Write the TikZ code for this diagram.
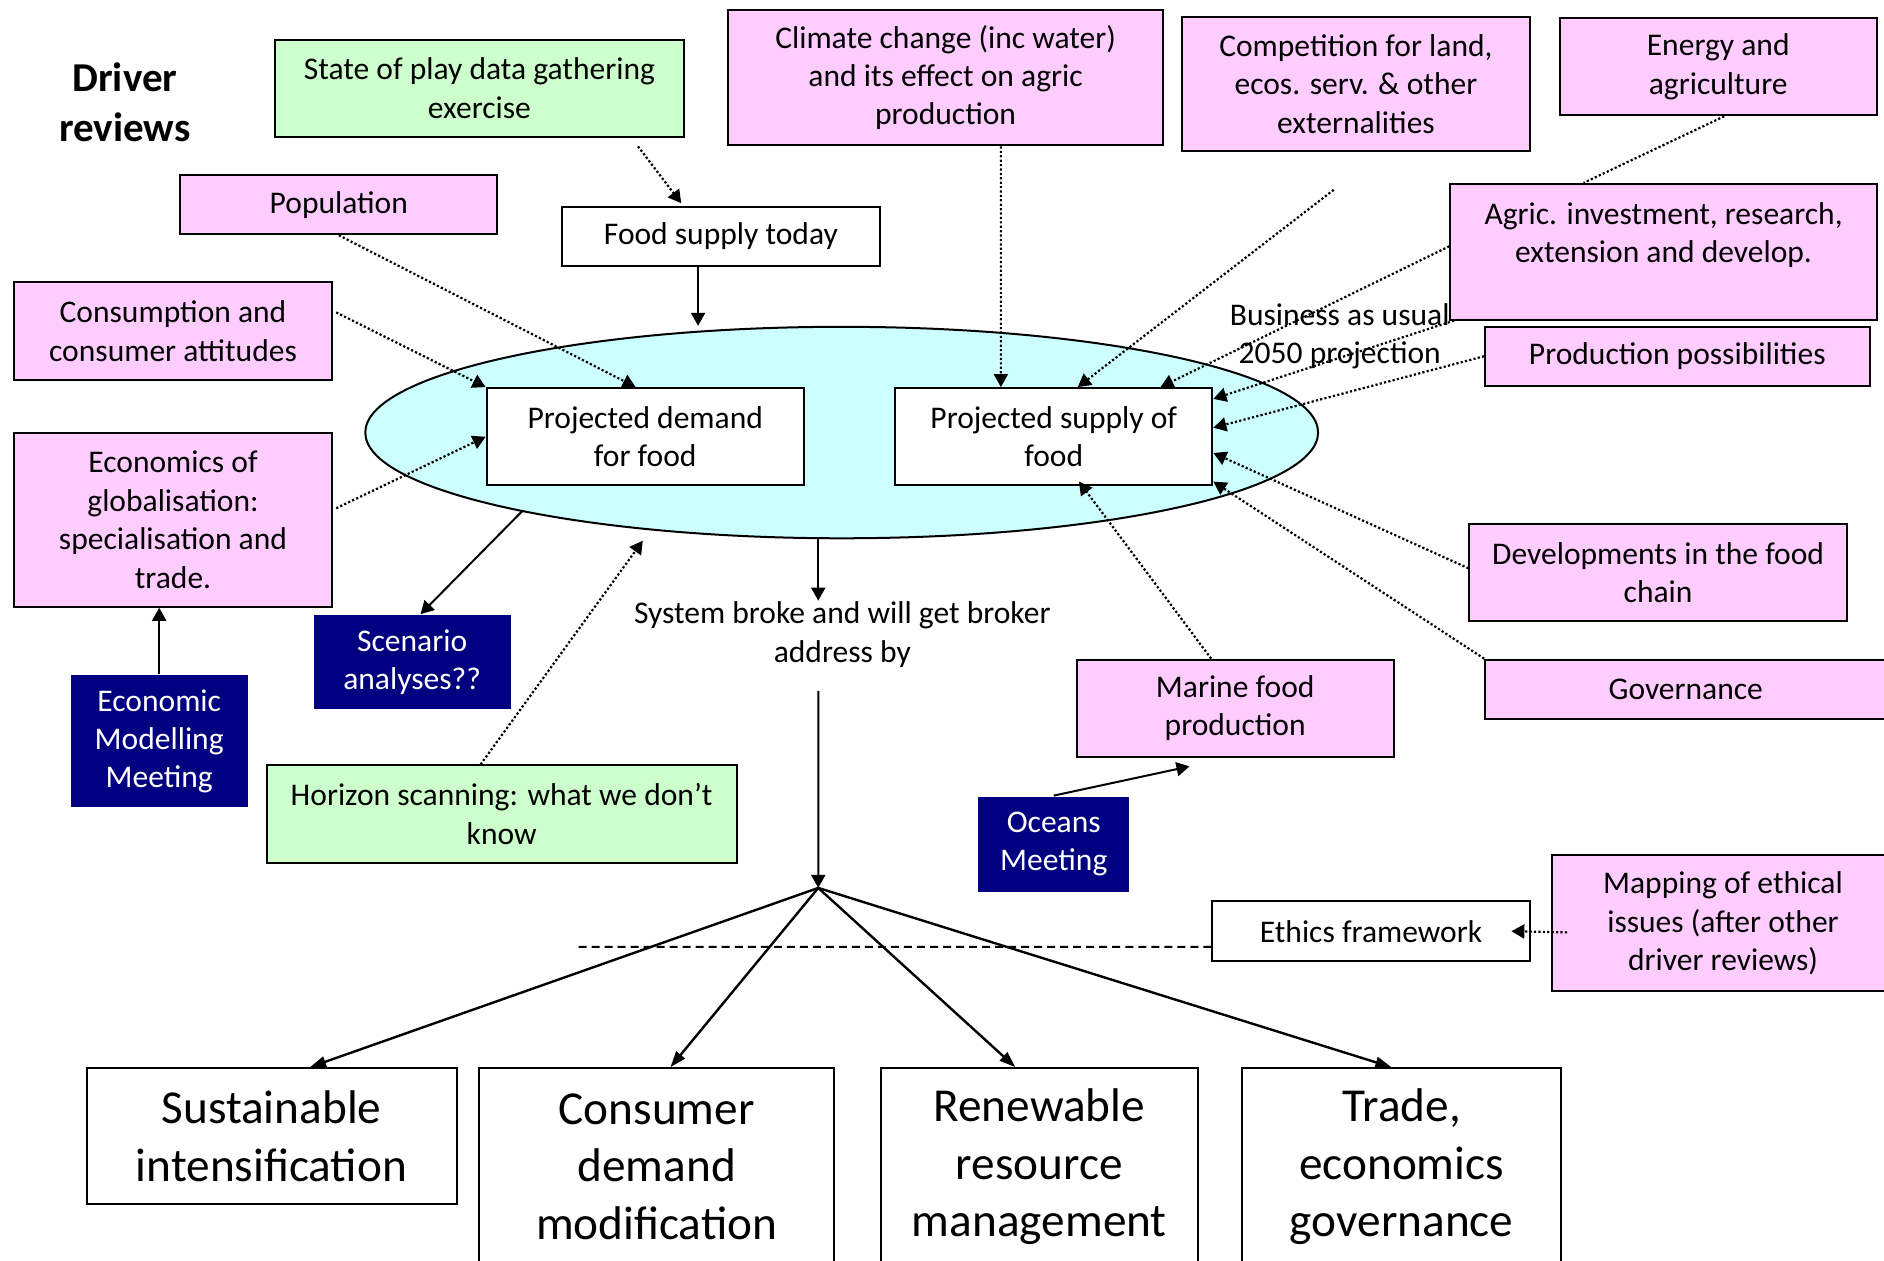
\documentclass[tikz,border=0pt]{standalone}
\usepackage{fontspec}
\setmainfont{Carlito}
\usetikzlibrary{arrows.meta,shapes.geometric}
\definecolor{drvpink}{RGB}{255,204,255}
\definecolor{drvgreen}{RGB}{204,255,204}
\definecolor{drvnavy}{RGB}{0,0,128}
\definecolor{drvcyan}{RGB}{204,255,255}

\begin{document}
\begin{tikzpicture}[x=0.6pt,y=-0.6pt,
  box/.style={draw, line width=1pt, align=center, inner sep=0pt, font=\fontsize{15.75}{19.2}\selectfont},
  sz/.style 2 args={minimum width=#1*0.6pt, minimum height=#2*0.6pt},
  pinkbox/.style={box, fill=drvpink},
  greenbox/.style={box, fill=drvgreen},
  whitebox/.style={box, fill=white},
  navybox/.style={box, draw=none, fill=drvnavy, text=white},
  bigbox/.style={box, fill=white, font=\fontsize{23.6}{28.8}\selectfont},
  dotline/.style={line width=1.1pt, dash pattern=on 1.1pt off 1.1pt},
  link/.style={dotline, -{Triangle[length=6.5pt,width=7pt]}},
  feed/.style={line width=1pt, -{Triangle[length=6.5pt,width=7pt]}},
  fanout/.style={line width=1.2pt, -{Triangle[length=8pt,width=5.5pt]}}
]
\useasboundingbox (0,0) rectangle (1568,1049);

\node[ellipse, draw, fill=drvcyan, line width=1pt, inner sep=0pt, minimum width=793*0.6pt, minimum height=176*0.6pt] (ell) at (700.5,360) {};

\node[font=\fontsize{20.5}{25.2}\selectfont\bfseries, align=center] (title) at (104,85) {Driver\\reviews};

\node[greenbox, sz={340}{81}] (state) at (399,73.5) {State of play data gathering\\exercise};
\node[pinkbox, sz={362}{113}] (climate) at (787,64.5) {Climate change (inc water)\\and its effect on agric\\production};
\node[pinkbox, sz={289}{112}] (compet) at (1128.5,70) {Competition for land,\\ecos. serv. \& other\\externalities};
\node[pinkbox, sz={264}{81}] (energy) at (1430,55.5) {Energy and\\agriculture};
\node[pinkbox, sz={264}{49}] (pop) at (282,170.5) {Population};
\node[whitebox, sz={264}{49}] (today) at (600,196.5) {Food supply today};
\node[pinkbox, sz={355}{113}] (agric) at (1384.5,209.5) {Agric. investment, research,\\extension and develop.\\~};
\node[pinkbox, sz={264}{81}] (consum) at (144,275.5) {Consumption and\\consumer attitudes};
\node[whitebox, sz={264}{81}] (demand) at (537,363.5) {Projected demand\\for food};
\node[whitebox, sz={264}{81}] (supply) at (877,363.5) {Projected supply of\\food};
\node[pinkbox, sz={320}{49}] (prodposs) at (1396,296.5) {Production possibilities};
\node[pinkbox, sz={264}{145}] (econ) at (144,432.5) {Economics of\\globalisation:\\specialisation and\\trade.};
\node[pinkbox, sz={314}{81}] (devel) at (1380,476.5) {Developments in the food\\chain};
\node[navybox, sz={164}{78}] (scen) at (343,551) {Scenario\\analyses??};
\node[navybox, sz={147}{110}] (emm) at (132.5,617) {Economic\\Modelling\\Meeting};
\node[pinkbox, sz={264}{81}] (marine) at (1028,589.5) {Marine food\\production};
\node[pinkbox, sz={334}{49}] (gov) at (1403,573.5) {Governance};
\node[greenbox, sz={391}{81}] (horizon) at (417.5,677.5) {Horizon scanning: what we don’t\\know};
\node[navybox, sz={126}{79}] (oceans) at (877,702.5) {Oceans\\Meeting};
\node[whitebox, sz={264}{50}] (ethics) at (1141,775) {Ethics framework};
\node[pinkbox, sz={284}{113}] (mapping) at (1434,768.5) {Mapping of ethical\\issues (after other\\driver reviews)};

\node[box, draw=none, fill=none] (bau) at (1115,280) {Business as usual\\2050 projection};
\node[box, draw=none, fill=none] (broke) at (701,528) {System broke and will get broker\\address by};

\node[bigbox, sz={308}{113}] (sust) at (226,945.5) {Sustainable\\intensification};
\node[bigbox, sz={295}{164}] (consdem) at (546.5,971) {Consumer\\demand\\modification};
\node[bigbox, sz={264}{164}] (renew) at (865,971) {Renewable\\resource\\management};
\node[bigbox, sz={265}{164}] (trade) at (1166.5,971) {Trade,\\economics\\governance};

\coordinate (cp) at (1110,158);
\coordinate (hz) at (535,450);
\coordinate (fan) at (681,739);
\coordinate (dl) at (481,788);

% inputs to demand and supply
\draw[link] ([xshift=79.2pt,yshift=-4.2pt]state.south) -- ([xshift=-19.8pt,yshift=1.2pt]today.north);
\draw[feed] ([xshift=-11.4pt]today.south) -- ([xshift=-11.4pt]today.south |- ell.north);
\draw[link] (pop.south) -- ([xshift=-4.8pt]demand.north);
\draw[link] ([xshift=1.8pt,yshift=9.3pt]consum.east) -- (demand.north west);
\draw[link] ([xshift=1.8pt,yshift=5.7pt]econ.east) -- (demand.west);
\draw[link] ([xshift=-10.5pt]horizon.north) -- (hz);
\draw[feed] (emm.north) -- (emm.north |- econ.south);
\draw[feed] ([xshift=18.6pt,yshift=-12pt]demand.south west) -- ([xshift=4.2pt]scen.north);

\draw[link] ([xshift=27.6pt]climate.south) -- ([xshift=-26.4pt]supply.north);
\draw[link] (cp) -- ([xshift=12pt]supply.north);
\draw[dotline] ([xshift=3pt]energy.south) -- ([xshift=-39.9pt]agric.north);
\draw[link] ([yshift=2.7pt]agric.west) -- ([xshift=-26.4pt]supply.north east);
\draw[link] ([xshift=2.4pt]agric.south west) -- ([yshift=18.9pt]supply.east);
\draw[link] (prodposs.west) -- ([yshift=4.5pt]supply.east);
\draw[link] ([yshift=2.1pt]devel.west) -- ([yshift=-8.1pt]supply.east);
\draw[link] (gov.north west) -- ([yshift=2.4pt]supply.south east);
\draw[link] ([xshift=-12pt]marine.north) -- ([xshift=12.6pt,yshift=2.4pt]supply.south);
\draw[feed] (oceans.north) -- ([xshift=-22.8pt,yshift=-4.2pt]marine.south);

% outcome
\draw[feed] ([xshift=-11.7pt]ell.south) -- ([xshift=-12pt]broke.north);
\draw[feed] ([xshift=-12pt,yshift=-11.4pt]broke.south) -- (fan);
\draw[fanout] (fan) -- ([xshift=19.2pt]sust.north);
\draw[fanout] (fan) -- ([xshift=6.9pt]consdem.north);
\draw[fanout] (fan) -- ([xshift=-12pt]renew.north);
\draw[fanout] (fan) -- ([xshift=-5.1pt]trade.north);
\draw[line width=1pt, dash pattern=on 4pt off 2.5pt] ([yshift=-7.8pt]ethics.west) -- (dl);
\draw[link] ([xshift=7.8pt,yshift=-4.5pt]mapping.west) -- ([xshift=-9.6pt]ethics.east);
\end{tikzpicture}
\end{document}
